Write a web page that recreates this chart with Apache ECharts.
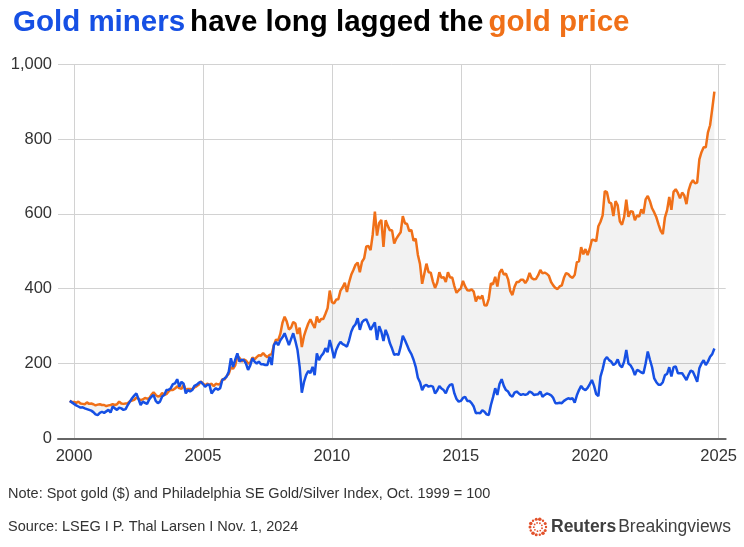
<!DOCTYPE html>
<html>
<head>
<meta charset="utf-8">
<script src="https://cdn.jsdelivr.net/npm/echarts@6/dist/echarts.min.js"></script>
<style>
html,body{margin:0;padding:0;background:#fff;}
#chart{width:744px;height:547px;}
</style>
</head>
<body>
<div id="chart"></div>
<script>
// Monthly month-end values, Oct 1999 = 100, running Oct 1999 .. Oct 2024
const firstYear = 1999;
const firstMonth = 10; // October
const goldIndex = [
  100, 97, 97,
  95, 98, 93, 92, 91, 96, 92, 93, 91, 88, 90, 91,
  89, 89, 86, 88, 89, 91, 89, 91, 98, 93, 92, 93,
  94, 99, 101, 103, 109, 106, 102, 104, 108, 106, 107, 116,
  123, 116, 112, 113, 121, 116, 118, 125, 130, 129, 133, 139,
  134, 132, 143, 129, 132, 132, 131, 136, 139, 143, 152, 147,
  141, 146, 143, 146, 139, 146, 144, 145, 158, 157, 166, 172,
  190, 186, 195, 219, 215, 205, 211, 208, 200, 202, 216, 211,
  217, 222, 221, 228, 221, 217, 223, 225, 249, 264, 262, 279,
  309, 325, 312, 291, 296, 311, 307, 279, 296, 244, 273, 291,
  307, 318, 306, 295, 326, 310, 319, 319, 333, 348, 395, 364,
  361, 371, 372, 395, 404, 416, 391, 417, 437, 450, 464, 470,
  444, 472, 481, 513, 514, 503, 545, 606, 542, 576, 584, 512,
  583, 568, 556, 556, 521, 534, 543, 551, 594, 575, 573, 554,
  557, 528, 534, 491, 466, 413, 440, 467, 444, 443, 419, 402,
  416, 444, 429, 431, 418, 444, 430, 430, 407, 389, 396, 401,
  421, 406, 396, 395, 398, 392, 366, 380, 373, 382, 356, 355,
  373, 414, 412, 432, 406, 442, 452, 438, 440, 425, 394, 383,
  405, 418, 418, 424, 424, 415, 424, 442, 428, 425, 426, 436,
  450, 441, 443, 440, 434, 418, 409, 402, 399, 406, 409, 429,
  442, 439, 432, 429, 437, 471, 473, 511, 492, 506, 490, 507,
  531, 530, 527, 567, 579, 596, 661, 658, 631, 628, 594, 634,
  623, 580, 571, 592, 638, 592, 607, 606, 583, 596, 593, 612,
  601, 639, 648, 634, 615, 604, 591, 572, 555, 546, 591, 610,
  645, 611, 659, 666, 656, 642, 657, 649, 626, 663, 681, 690,
  682, 684, 746, 765, 778, 778, 818, 837, 881, 927
];
const minersIndex = [
  100, 96, 92,
  88, 85, 82, 83, 80, 78, 76, 74, 70, 64, 62, 68,
  71, 68, 72, 76, 69, 85, 80, 76, 82, 80, 76, 78,
  89, 98, 107, 114, 120, 105, 89, 98, 95, 92, 104, 111,
  116, 100, 94, 98, 112, 116, 129, 130, 134, 145, 147, 158,
  138, 151, 146, 120, 129, 125, 129, 140, 143, 148, 151, 145,
  138, 143, 143, 120, 128, 134, 130, 134, 156, 160, 165, 178,
  214, 191, 210, 227, 205, 210, 209, 200, 183, 195, 214, 205,
  200, 205, 198, 198, 196, 196, 218, 196, 249, 258, 249, 262,
  270, 281, 265, 249, 265, 281, 260, 236, 191, 122, 150, 169,
  180, 174, 191, 169, 227, 209, 220, 227, 241, 230, 263, 240,
  214, 236, 249, 258, 252, 249, 245, 262, 285, 298, 305, 321,
  290, 310, 316, 318, 305, 290, 300, 310, 263, 300, 285, 260,
  290, 275, 254, 240, 223, 225, 223, 245, 274, 262, 249, 235,
  225, 210, 191, 162, 150, 129, 140, 143, 138, 140, 138, 120,
  128, 140, 133, 129, 120, 135, 143, 145, 120, 105, 98, 100,
  108, 111, 100, 100, 94, 85, 67, 68, 67, 75, 71, 64,
  62, 89, 110, 134, 116, 145, 158, 140, 129, 125, 115, 111,
  122, 125, 120, 116, 118, 116, 118, 125, 122, 116, 117, 118,
  125, 111, 116, 120, 118, 115, 108, 94, 94, 95, 94, 100,
  104, 107, 105, 107, 95, 115, 129, 140, 132, 129, 135, 145,
  156, 140, 118, 113, 165, 185, 210, 217, 209, 205, 196, 200,
  211, 195, 190, 205, 236, 200, 195, 185, 169, 183, 180, 176,
  174, 200, 232, 210, 190, 160, 150, 143, 143, 150, 169, 172,
  190, 165, 190, 192, 174, 174, 174, 165, 156, 170, 181, 178,
  165, 151, 187, 200, 209, 196, 205, 218, 225, 240
];
const xTickYears = [2000, 2005, 2010, 2015, 2020, 2025];
const yTicks = [0, 200, 400, 600, 800, 1000];

const titleParts = ['Gold miners', 'have long lagged the', 'gold price'];
const noteText = 'Note: Spot gold ($) and Philadelphia SE Gold/Silver Index, Oct. 1999 = 100';
const sourceText = 'Source: LSEG I P. Thal Larsen I Nov. 1, 2024';

const FONT = '"Liberation Sans", Arial, Helvetica, sans-serif';
const ORANGE = '#f07018';
const BLUE = '#1650e4';

// month-end position (decimal year) for each observation
function monthEnd(i) {
  return firstYear + (firstMonth + i) / 12;
}
const goldData = goldIndex.map((v, i) => [monthEnd(i), v]);
const minersData = minersIndex.map((v, i) => [monthEnd(i), v]);
const bandRows = goldIndex.map((v, i) => [monthEnd(i), v, minersIndex[i]]);

const chart = echarts.init(document.getElementById('chart'), null, {renderer: 'canvas'});

// dotted logo ring
const logoDots = [];
const cx = 538, cy = 527;
for (let k = 0; k < 14; k++) {
  const a = k / 14 * Math.PI * 2;
  logoDots.push({type: 'circle', shape: {cx: cx + Math.cos(a) * 8, cy: cy + Math.sin(a) * 8, r: 1.2 + (k % 3) * 0.3}, style: {fill: '#e2512b'}, silent: true});
}
for (let k = 0; k < 9; k++) {
  const a = k / 9 * Math.PI * 2 + 0.3;
  logoDots.push({type: 'circle', shape: {cx: cx + Math.cos(a) * 4.2, cy: cy + Math.sin(a) * 4.2, r: 0.9}, style: {fill: '#e2512b'}, silent: true});
}

// gap fill between the two lines, drawn through the axis scales
function renderBand(params, api) {
  if (params.dataIndex !== 0) return null;
  const top = bandRows.map(r => api.coord([r[0], r[1]]));
  const bottom = bandRows.slice().reverse().map(r => api.coord([r[0], r[2]]));
  return {
    type: 'polygon',
    shape: {points: top.concat(bottom)},
    style: {fill: 'rgba(0,0,0,0.05)', stroke: 'none'},
    silent: true
  };
}

chart.setOption({
  animation: false,
  backgroundColor: '#fff',
  textStyle: {fontFamily: FONT},
  title: {
    left: 8,
    top: 3,
    text: '{b|' + titleParts[0] + '} {k|' + titleParts[1] + '} {o|' + titleParts[2] + '}',
    textStyle: {
      rich: {
        b: {color: BLUE, fontSize: 29.5, fontWeight: 'bold', fontFamily: FONT, lineHeight: 29},
        k: {color: '#000', fontSize: 29.5, fontWeight: 'bold', fontFamily: FONT, lineHeight: 29},
        o: {color: ORANGE, fontSize: 29.5, fontWeight: 'bold', fontFamily: FONT, lineHeight: 29}
      }
    }
  },
  grid: {left: 58, right: 18.3, top: 64.3, bottom: 108.7, containLabel: false},
  xAxis: {
    type: 'value',
    min: 1999.378,
    max: 2025.272,
    axisLine: {show: true, onZero: false, lineStyle: {color: '#666', width: 2}},
    axisTick: {show: false, customValues: xTickYears},
    axisLabel: {
      customValues: xTickYears,
      formatter: v => String(Math.round(v)),
      color: '#333', fontSize: 16.5, fontFamily: FONT, margin: 10
    },
    splitLine: {show: true, lineStyle: {color: '#d2d2d2', width: 1}}
  },
  yAxis: {
    type: 'value',
    min: yTicks[0],
    max: yTicks[yTicks.length - 1],
    interval: 200,
    axisLine: {show: false},
    axisTick: {show: false},
    axisLabel: {
      color: '#333', fontSize: 16.5, fontFamily: FONT, margin: 6,
      formatter: v => v.toLocaleString('en-US')
    },
    splitLine: {show: true, lineStyle: {color: '#d2d2d2', width: 1}}
  },
  series: [
    {
      name: 'gap', type: 'custom', data: bandRows, renderItem: renderBand,
      encode: {x: 0, y: [1, 2]}, silent: true, z: 1, clip: true
    },
    {
      name: 'Gold', type: 'line', data: goldData, symbol: 'none',
      lineStyle: {color: ORANGE, width: 2.5}, z: 3
    },
    {
      name: 'Gold miners', type: 'line', data: minersData, symbol: 'none',
      lineStyle: {color: BLUE, width: 2.5}, z: 4
    }
  ],
  graphic: [
    {type: 'text', left: 8, top: 486, style: {text: noteText, fill: '#333', font: '14.5px ' + FONT}},
    {type: 'text', left: 8, top: 519, style: {text: sourceText, fill: '#333', font: '14.5px ' + FONT}},
    {type: 'text', x: 551, y: 527, style: {text: 'Reuters', fill: '#404040', font: 'bold 17.5px ' + FONT, verticalAlign: 'middle', align: 'left'}},
    {type: 'text', x: 731, y: 527, style: {text: 'Breakingviews', fill: '#404040', font: '17.5px ' + FONT, verticalAlign: 'middle', align: 'right'}}
  ].concat(logoDots)
});
</script>
</body>
</html>
